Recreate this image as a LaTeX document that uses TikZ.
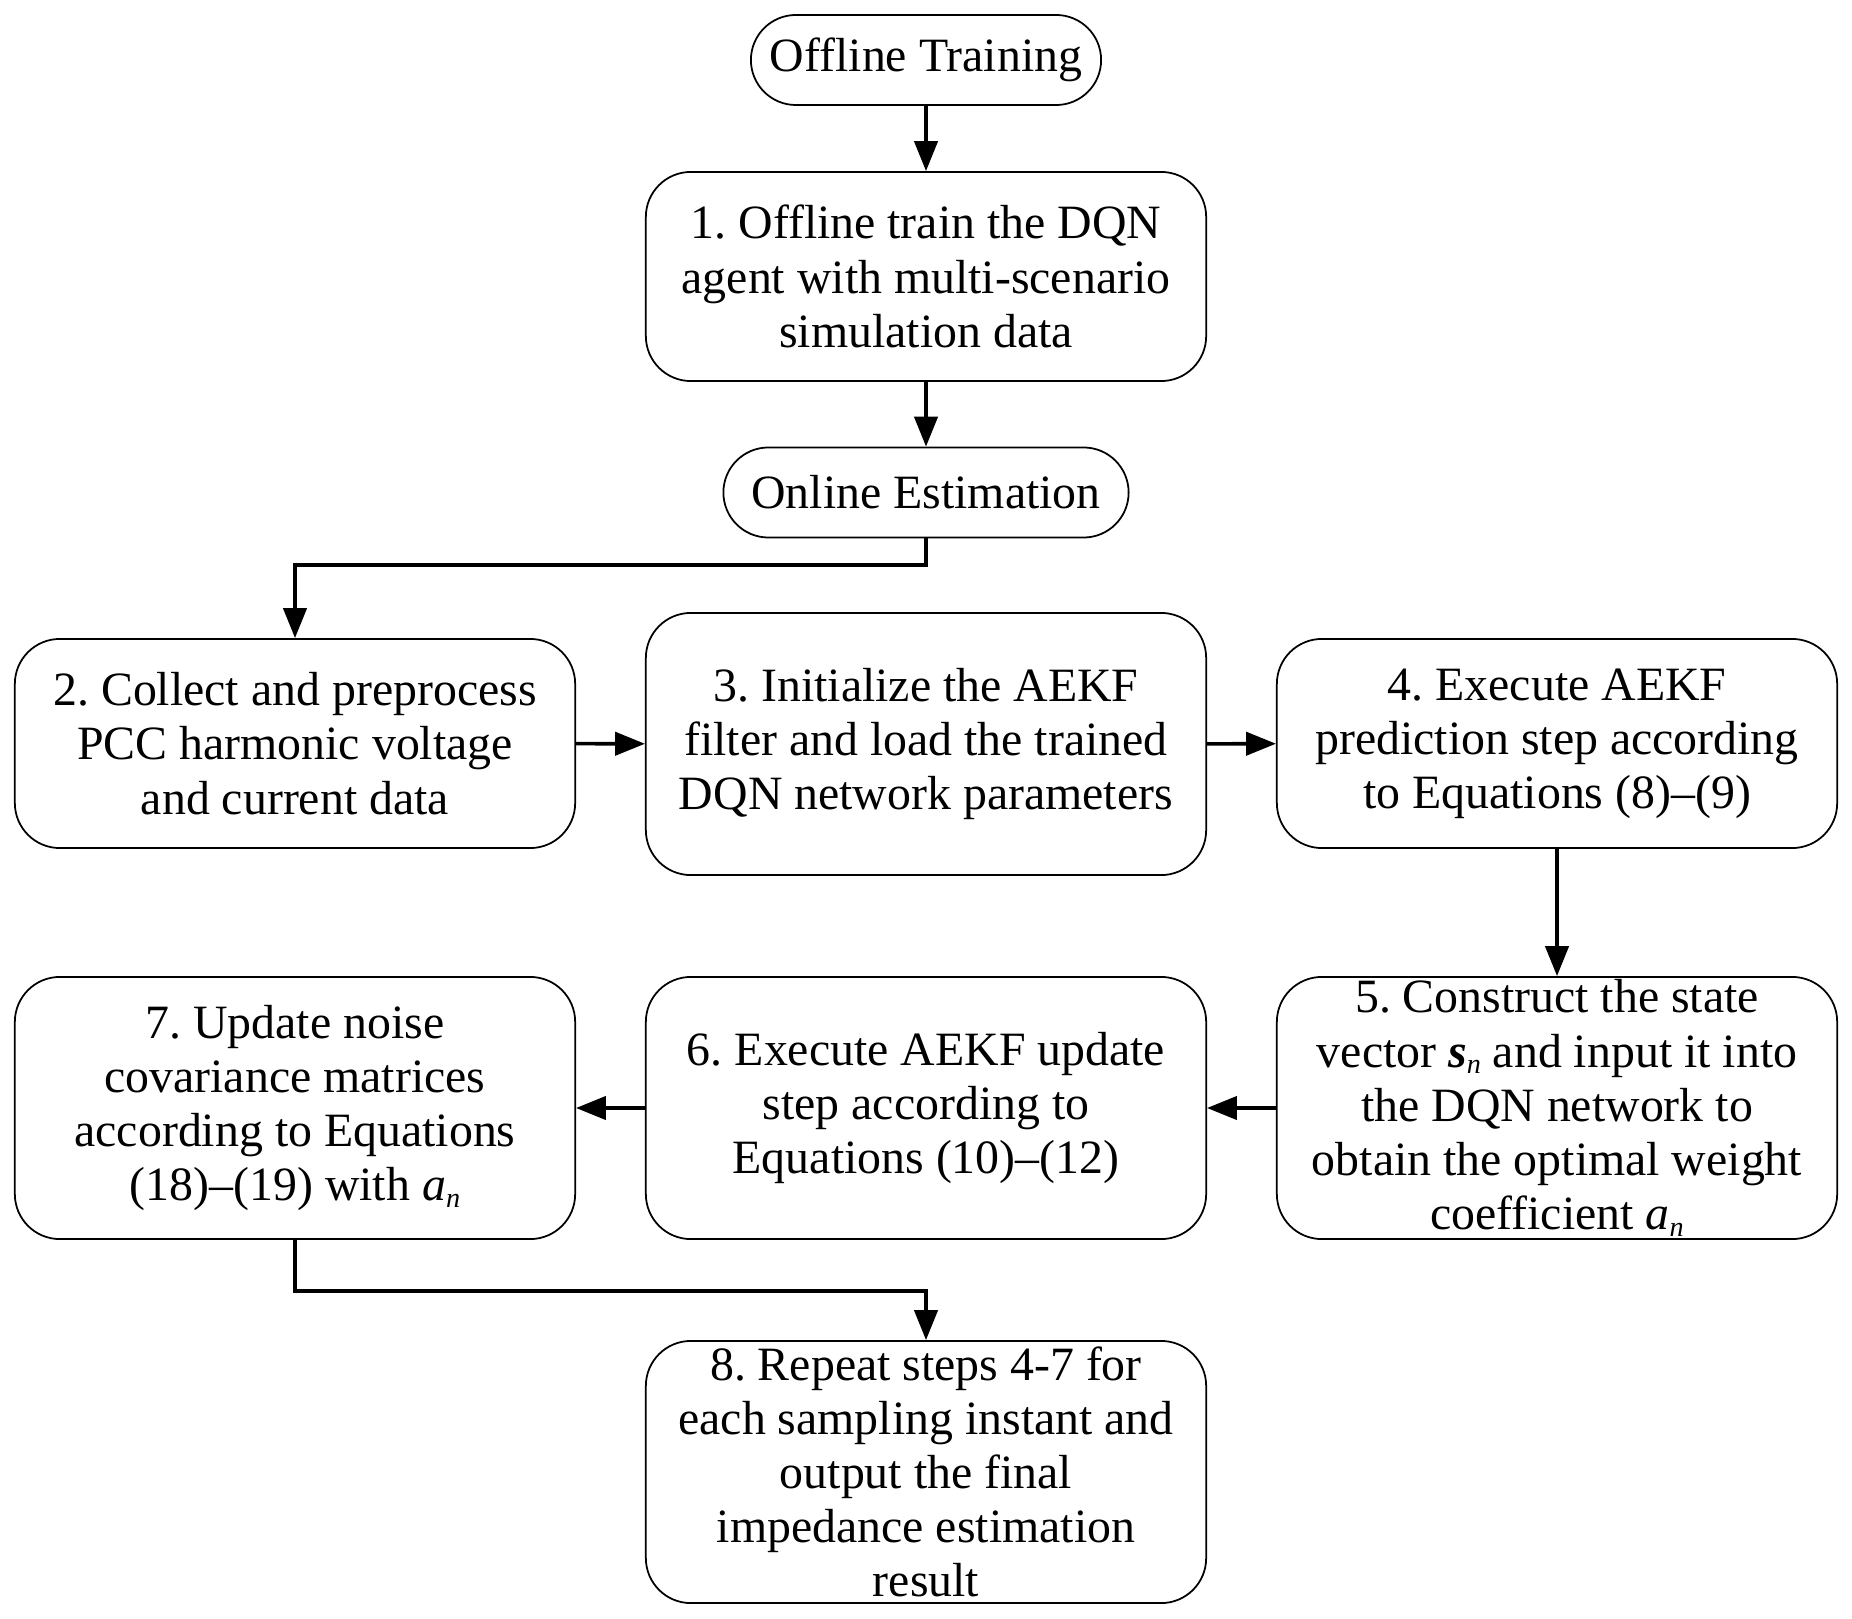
\documentclass[tikz,border=0pt]{standalone}
\usepackage{fontspec}
\setmainfont{Liberation Serif}
\usetikzlibrary{arrows.meta,positioning}
\frenchspacing
\newcommand{\subn}[1]{\textit{#1}\raisebox{-0.3ex}{\footnotesize\textit{n}}}
\newcommand{\subnb}[1]{\textbf{\textit{#1}}\raisebox{-0.3ex}{\footnotesize\textit{n}}}
\begin{document}
\begin{tikzpicture}[x=0.01cm,y=-0.01cm,
  box/.style={draw, line width=0.5pt, rounded corners=0.45cm, align=center,
    minimum width=5.6cm, inner sep=0pt,
    font=\fontsize{13.6}{15.4}\selectfont\frenchspacing},
  term/.style={draw, line width=0.5pt, rounded corners=0.45cm, align=center,
    inner sep=0pt, minimum height=0.9cm, font=\fontsize{13.6}{15.4}\selectfont},
  arr/.style={line width=1pt, -{Triangle[length=8.5pt,width=6.6pt]}}]
\useasboundingbox (0,0) rectangle (1852,1619);
\node[term, minimum width=3.5cm] (ot) at (926,60) {Offline Training};
\node[box, minimum height=2.09cm] (b1) at (926,276.5) {1. Offline train the DQN\\ agent with multi-scenario\\ simulation data};
\node[term, minimum width=4.05cm] (oe) at (926,492.5) {Online Estimation};
\node[box, minimum height=2.09cm] (b2) at (295,743.5) {2. Collect and preprocess\\ PCC harmonic voltage\\ and current data};
\node[box, minimum height=2.62cm] (b3) at (926,744) {3. Initialize the AEKF\\ filter and load the trained\\ DQN network parameters};
\node[box, minimum height=2.09cm] (b4) at (1557,743.5) {4. Execute AEKF\\ prediction step according\\ to Equations (8)--(9)};
\node[box, minimum height=2.62cm] (b5) at (1557,1108) {5. Construct the state\\ vector \subnb{s} and input it into\\ the DQN network to\\ obtain the optimal weight\\ coefficient \subn{a}};
\node[box, minimum height=2.62cm] (b6) at (926,1108) {6. Execute AEKF update\\ step according to\\ Equations (10)--(12)};
\node[box, minimum height=2.62cm] (b7) at (295,1108) {7. Update noise\\ covariance matrices\\ according to Equations\\ (18)--(19) with \subn{a}};
\node[box, minimum height=2.62cm] (b8) at (926,1472) {8. Repeat steps 4-7 for\\ each sampling instant and\\ output the final\\ impedance estimation\\ result};
\coordinate (c1) at (926,565);
\coordinate (c2) at (295,565);
\coordinate (c3) at (295,1291);
\coordinate (c4) at (926,1291);
\draw[arr] (ot) -- (b1);
\draw[arr] (b1) -- (oe);
\draw[arr] (oe.south) -- (c1) -- (c2) -- (b2.north);
\draw[arr] (b2) -- (b3);
\draw[arr] (b3) -- (b4);
\draw[arr] (b4) -- (b5);
\draw[arr] (b5) -- (b6);
\draw[arr] (b6) -- (b7);
\draw[arr] (b7.south) -- (c3) -- (c4) -- (b8.north);
\end{tikzpicture}
\end{document}
